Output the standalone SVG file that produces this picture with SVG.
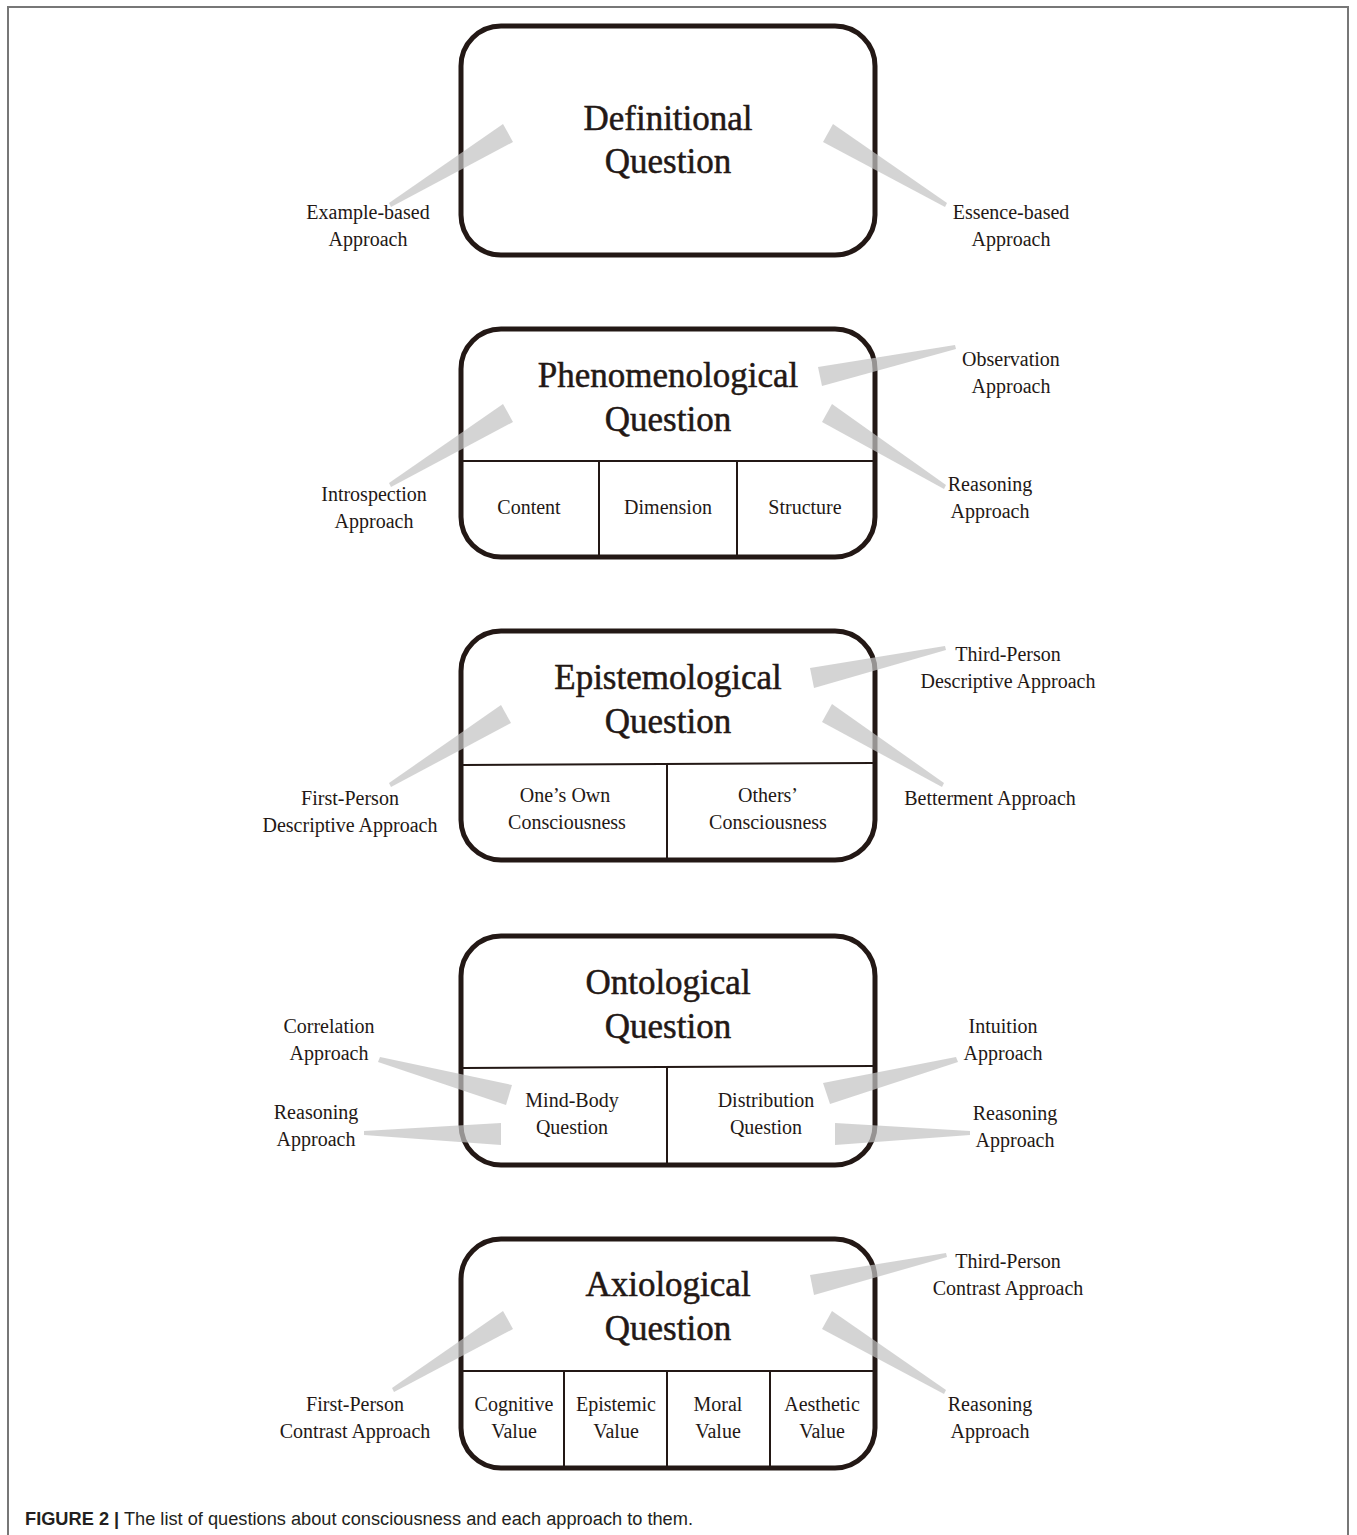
<svg xmlns="http://www.w3.org/2000/svg" width="1357" height="1535" viewBox="0 0 1357 1535">
<style>
.box{fill:#fff;stroke:#231815;stroke-width:5}
.div{stroke:#231815;stroke-width:2;fill:none}
.title{font-family:"Liberation Serif",serif;font-size:35px;fill:#231815;stroke:#231815;stroke-width:0.5;text-anchor:middle}
.lbl{font-family:"Liberation Serif",serif;font-size:20px;fill:#231815;text-anchor:middle}
.wedge{fill:#c4c4c4;opacity:0.72}
.frame{stroke:#777;stroke-width:2;fill:none}
.cap{font-family:"Liberation Sans",sans-serif;font-size:18px;fill:#231f20}
</style>
<rect width="1357" height="1535" fill="#fff"/>
<path class="frame" d="M8,1535 V7 H1348 V1535"/>

<g id="definitional">
<rect class="box" x="461" y="26" width="414" height="229" rx="40"/>
<text class="title" x="668" y="130">Definitional</text>
<text class="title" x="668" y="173">Question</text>
</g>

<g id="phenomenological">
<rect class="box" x="461" y="329" width="414" height="228" rx="40"/>
<text class="title" x="668" y="387">Phenomenological</text>
<text class="title" x="668" y="431">Question</text>
<path class="div" d="M463,461 H873 M599,461 V555 M737,461 V555"/>
<text class="lbl" x="529" y="514">Content</text>
<text class="lbl" x="668" y="514">Dimension</text>
<text class="lbl" x="805" y="514">Structure</text>
</g>

<g id="epistemological">
<rect class="box" x="461" y="631" width="414" height="229" rx="40"/>
<text class="title" x="668" y="689">Epistemological</text>
<text class="title" x="668" y="733">Question</text>
<path class="div" d="M463,765 L873,763 M667,765 V858"/>
<text class="lbl" x="565" y="802">One’s Own</text>
<text class="lbl" x="567" y="829">Consciousness</text>
<text class="lbl" x="768" y="802">Others’</text>
<text class="lbl" x="768" y="829">Consciousness</text>
</g>

<g id="ontological">
<rect class="box" x="461" y="936" width="414" height="229" rx="40"/>
<text class="title" x="668" y="994">Ontological</text>
<text class="title" x="668" y="1038">Question</text>
<path class="div" d="M463,1068 L873,1066 M667,1067 V1163"/>
<text class="lbl" x="572" y="1107">Mind-Body</text>
<text class="lbl" x="572" y="1134">Question</text>
<text class="lbl" x="766" y="1107">Distribution</text>
<text class="lbl" x="766" y="1134">Question</text>
</g>

<g id="axiological">
<rect class="box" x="461" y="1239" width="414" height="229" rx="40"/>
<text class="title" x="668" y="1296">Axiological</text>
<text class="title" x="668" y="1340">Question</text>
<path class="div" d="M463,1371 H873 M564,1371 V1466 M667,1371 V1466 M770,1371 V1466"/>
<text class="lbl" x="514" y="1411">Cognitive</text>
<text class="lbl" x="514" y="1438">Value</text>
<text class="lbl" x="616" y="1411">Epistemic</text>
<text class="lbl" x="616" y="1438">Value</text>
<text class="lbl" x="718" y="1411">Moral</text>
<text class="lbl" x="718" y="1438">Value</text>
<text class="lbl" x="822" y="1411">Aesthetic</text>
<text class="lbl" x="822" y="1438">Value</text>
</g>

<g id="connectors">
<polygon class="wedge" points="503,124 513,142 391,207 389,203"/>
<polygon class="wedge" points="833,124 823,142 945,207 947,203"/>
<polygon class="wedge" points="503,404 513,422 391,487 389,483"/>
<polygon class="wedge" points="818,367 822,386 956,349 955,345"/>
<polygon class="wedge" points="832,404 822,422 944,489 946,485"/>
<polygon class="wedge" points="501,705 511,723 391,787 389,783"/>
<polygon class="wedge" points="810,668 814,688 946,650 945,646"/>
<polygon class="wedge" points="832,704 822,722 942,787 944,783"/>
<polygon class="wedge" points="512,1085 506,1105 378,1062 380,1057"/>
<polygon class="wedge" points="501,1123 501,1145 364,1135 364,1131"/>
<polygon class="wedge" points="823,1083 830,1104 958,1062 956,1057"/>
<polygon class="wedge" points="835,1123 835,1145 970,1135 970,1131"/>
<polygon class="wedge" points="503,1311 513,1329 394,1392 392,1388"/>
<polygon class="wedge" points="810,1275 814,1295 947,1257 946,1253"/>
<polygon class="wedge" points="832,1311 822,1329 944,1394 946,1390"/>
</g>

<g id="approaches">
<text class="lbl" x="368" y="219">Example-based</text>
<text class="lbl" x="368" y="246">Approach</text>
<text class="lbl" x="1011" y="219">Essence-based</text>
<text class="lbl" x="1011" y="246">Approach</text>
<text class="lbl" x="374" y="501">Introspection</text>
<text class="lbl" x="374" y="528">Approach</text>
<text class="lbl" x="1011" y="366">Observation</text>
<text class="lbl" x="1011" y="393">Approach</text>
<text class="lbl" x="990" y="491">Reasoning</text>
<text class="lbl" x="990" y="518">Approach</text>
<text class="lbl" x="350" y="805">First-Person</text>
<text class="lbl" x="350" y="832">Descriptive Approach</text>
<text class="lbl" x="1008" y="661">Third-Person</text>
<text class="lbl" x="1008" y="688">Descriptive Approach</text>
<text class="lbl" x="990" y="805">Betterment Approach</text>
<text class="lbl" x="329" y="1033">Correlation</text>
<text class="lbl" x="329" y="1060">Approach</text>
<text class="lbl" x="316" y="1119">Reasoning</text>
<text class="lbl" x="316" y="1146">Approach</text>
<text class="lbl" x="1003" y="1033">Intuition</text>
<text class="lbl" x="1003" y="1060">Approach</text>
<text class="lbl" x="1015" y="1120">Reasoning</text>
<text class="lbl" x="1015" y="1147">Approach</text>
<text class="lbl" x="1008" y="1268">Third-Person</text>
<text class="lbl" x="1008" y="1295">Contrast Approach</text>
<text class="lbl" x="355" y="1411">First-Person</text>
<text class="lbl" x="355" y="1438">Contrast Approach</text>
<text class="lbl" x="990" y="1411">Reasoning</text>
<text class="lbl" x="990" y="1438">Approach</text>
</g>

<text class="cap" x="25" y="1525" textLength="668" lengthAdjust="spacingAndGlyphs"><tspan font-weight="bold">FIGURE 2 |</tspan> The list of questions about consciousness and each approach to them.</text>
</svg>
